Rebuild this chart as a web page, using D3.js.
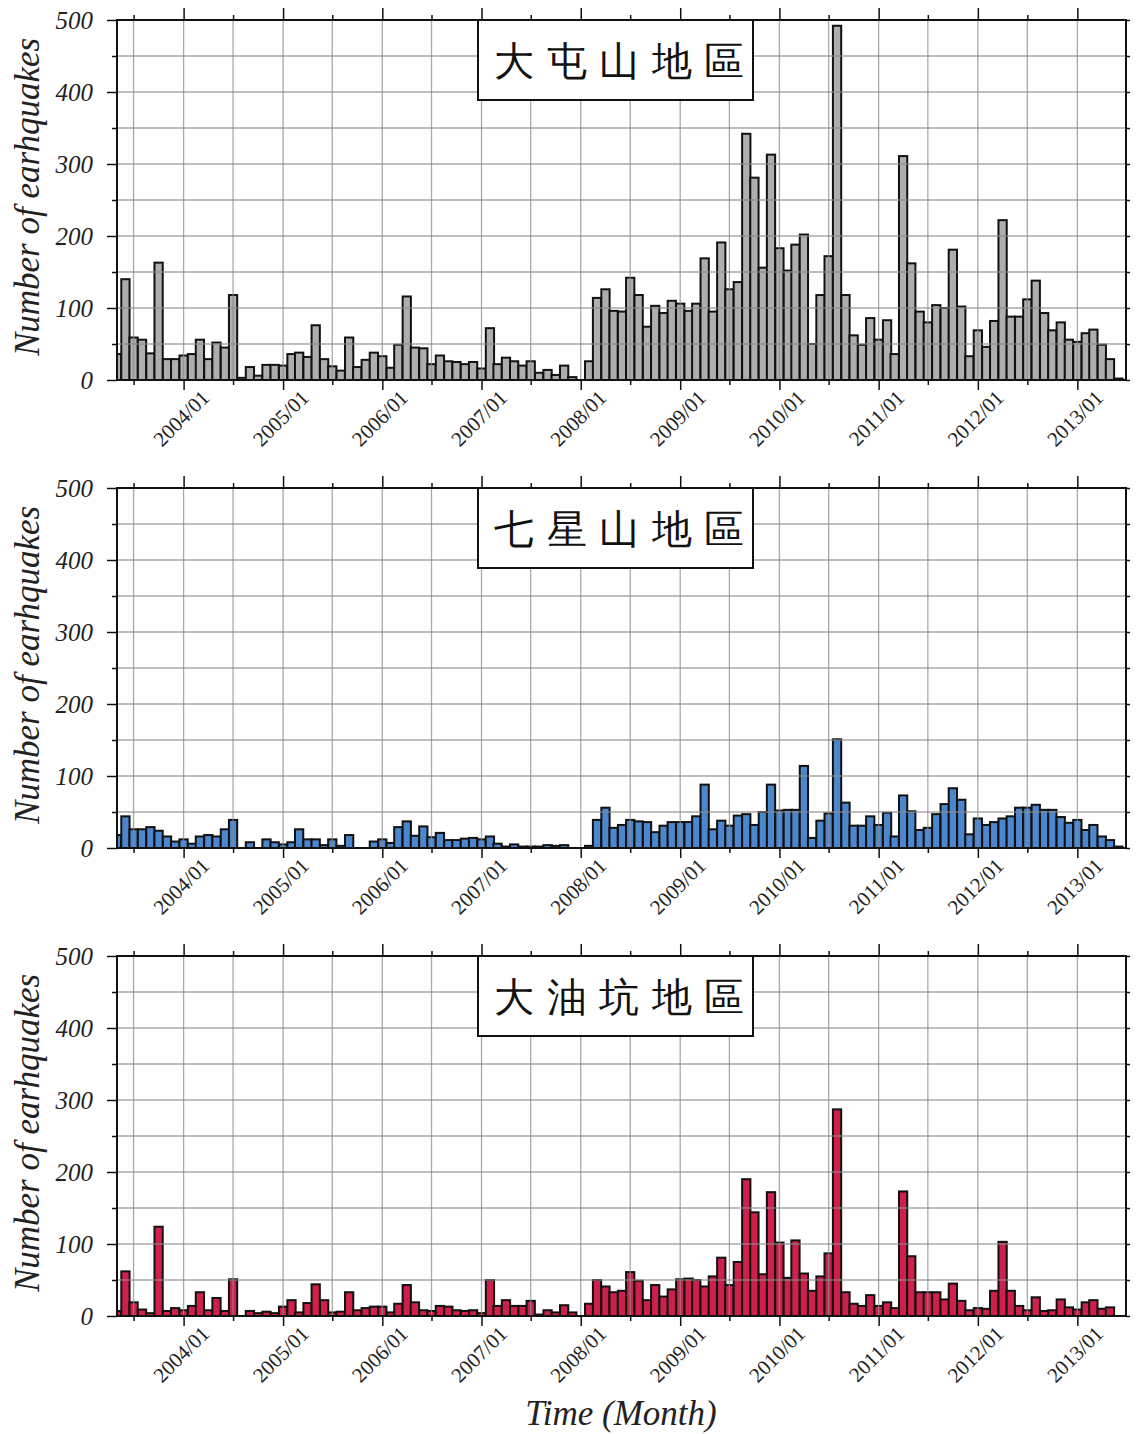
<!DOCTYPE html>
<html>
<head>
<meta charset="utf-8">
<script src="https://cdn.jsdelivr.net/npm/d3@7"></script>
<style>
  body { margin: 0; background: #fff; }
  text { font-family: "Liberation Serif", "DejaVu Serif", serif; }
</style>
</head>
<body>
<svg id="chart" width="1136" height="1434"></svg>
<script>
// monthly counts, first bar is 2003/05, last bar is 2013/06
let firstMonth = "2003/05";
let lastMonth = "2013/06";

let regions = ["大屯山地區", "七星山地區", "大油坑地區"];

let tatunValues = [
  36, 140, 59, 56, 37, 163, 29, 29, 34, 36,
  56, 29, 52, 45, 118, 3, 18, 6, 21, 21,
  20, 36, 38, 32, 76, 29, 19, 13, 59, 18,
  28, 38, 33, 17, 49, 116, 45, 44, 22, 34,
  26, 25, 22, 25, 16, 72, 22, 31, 26, 20,
  26, 10, 14, 7, 20, 4, 0, 26, 114, 126,
  96, 95, 142, 118, 74, 103, 93, 110, 106, 96,
  106, 169, 95, 191, 126, 136, 342, 281, 156, 313,
  183, 152, 188, 202, 50, 118, 172, 492, 118, 62,
  49, 86, 56, 83, 36, 311, 162, 95, 80, 104,
  100, 181, 102, 33, 69, 46, 82, 222, 88, 88,
  112, 138, 93, 69, 80, 56, 53, 65, 70, 49,
  29, 2
];

let chihsingValues = [
  18, 44, 26, 26, 29, 24, 16, 9, 12, 6,
  16, 18, 16, 26, 39, 0, 8, 0, 12, 8,
  5, 8, 26, 12, 12, 4, 12, 3, 18, 0,
  0, 9, 12, 7, 29, 37, 17, 30, 15, 21,
  11, 11, 13, 14, 12, 16, 6, 2, 5, 2,
  2, 2, 4, 3, 4, 0, 0, 3, 39, 56,
  28, 32, 39, 37, 36, 22, 31, 36, 36, 36,
  44, 88, 26, 38, 31, 45, 47, 32, 50, 88,
  52, 53, 53, 114, 14, 38, 48, 151, 63, 31,
  31, 44, 32, 49, 16, 73, 51, 25, 28, 47,
  61, 83, 67, 19, 41, 32, 36, 41, 44, 56,
  56, 60, 53, 53, 43, 35, 39, 25, 32, 16,
  11, 2
];

let tayoukengValues = [
  7, 62, 19, 9, 4, 124, 7, 11, 8, 14,
  33, 8, 25, 7, 51, 0, 7, 4, 6, 4,
  13, 22, 5, 18, 44, 22, 5, 6, 33, 8,
  11, 13, 13, 5, 17, 43, 19, 8, 7, 14,
  13, 8, 7, 8, 4, 50, 14, 22, 14, 14,
  21, 2, 8, 5, 15, 5, 0, 17, 50, 41,
  33, 35, 61, 49, 22, 43, 27, 37, 51, 52,
  50, 41, 55, 81, 43, 75, 190, 144, 58, 172,
  102, 53, 105, 59, 35, 55, 87, 287, 33, 17,
  14, 29, 14, 19, 11, 173, 83, 33, 33, 33,
  23, 45, 21, 8, 11, 10, 35, 103, 35, 14,
  8, 26, 7, 8, 23, 12, 9, 19, 22, 10,
  12, 0
];

let yearLabels = ["2004/01", "2005/01", "2006/01", "2007/01", "2008/01",
  "2009/01", "2010/01", "2011/01", "2012/01", "2013/01"];
let midLabels = ["2003/07", "2004/07", "2005/07", "2006/07", "2007/07",
  "2008/07", "2009/07", "2010/07", "2011/07", "2012/07"];
let yTickLabels = [0, 100, 200, 300, 400, 500];
let yMinor = [50, 150, 250, 350, 450];

let series = [tatunValues, chihsingValues, tayoukengValues];
let barColors = ["#aeaeae", "#4c86cc", "#cf1f4b"];

// layout
let left = 117, right = 1126;
let plotH = 360, panelStep = 468, firstTop = 20;

let svg = d3.select("#chart");
let parseMonth = d3.timeParse("%Y/%m");

let months = d3.timeMonth.range(parseMonth(firstMonth), d3.timeMonth.offset(parseMonth(lastMonth), 1));
let yearDates = yearLabels.map(parseMonth);
let midDates = midLabels.map(parseMonth);

let x = d3.scaleTime()
  .domain([parseMonth(firstMonth), new Date(2013, 5, 29)])
  .range([left, right]);

let y = d3.scaleLinear().domain([0, 500]).range([plotH, 0]);

// one month wide bars, centred on the first of the month
let bw = (x(yearDates[9]) - x(yearDates[0])) / 108;

svg.append("defs").append("clipPath").attr("id", "plotclip")
  .append("rect").attr("x", left).attr("y", 0).attr("width", right - left).attr("height", plotH);

series.forEach(function(values, i) {
  let top = firstTop + i * panelStep;
  let g = svg.append("g").attr("transform", "translate(0," + top + ")");

  // bars
  g.append("g")
    .attr("clip-path", "url(#plotclip)")
    .selectAll("rect")
    .data(values)
    .enter()
    .append("rect")
    .attr("x", function(d, k) { return x(months[k]) - bw / 2; })
    .attr("width", bw)
    .attr("y", function(d) { return y(d); })
    .attr("height", function(d) { return y(0) - y(d); })
    .attr("fill", barColors[i])
    .attr("stroke", "#111")
    .attr("stroke-width", 2)
    .attr("display", function(d) { return d > 0 ? null : "none"; });

  // grid, every 6 months and every 50
  let grid = g.append("g").attr("stroke", "#8c8c8c").attr("stroke-opacity", 0.75).attr("stroke-width", 1.3);
  grid.selectAll("line.v")
    .data(yearDates.concat(midDates))
    .enter()
    .append("line")
    .attr("x1", function(d) { return x(d); })
    .attr("x2", function(d) { return x(d); })
    .attr("y1", 0)
    .attr("y2", plotH);
  grid.selectAll("line.h")
    .data(yTickLabels.concat(yMinor).filter(function(v) { return v > 0 && v < 500; }))
    .enter()
    .append("line")
    .attr("x1", left)
    .attr("x2", right)
    .attr("y1", function(d) { return y(d); })
    .attr("y2", function(d) { return y(d); });

  // ticks on all four sides
  let tickStyle = function(sel) {
    sel.select(".domain").remove();
    sel.selectAll(".tick line").attr("stroke", "#111").attr("stroke-width", 1.5);
    sel.selectAll(".tick text").remove();
  };
  g.append("g").attr("transform", "translate(0," + plotH + ")")
    .call(d3.axisBottom(x).tickValues(yearDates).tickSize(10)).call(tickStyle);
  g.append("g").attr("transform", "translate(0," + plotH + ")")
    .call(d3.axisBottom(x).tickValues(midDates).tickSize(5)).call(tickStyle);
  g.append("g")
    .call(d3.axisTop(x).tickValues(yearDates).tickSize(12)).call(tickStyle);
  g.append("g")
    .call(d3.axisTop(x).tickValues(midDates).tickSize(5)).call(tickStyle);
  g.append("g").attr("transform", "translate(" + left + ",0)")
    .call(d3.axisLeft(y).tickValues(yTickLabels).tickSize(10)).call(tickStyle);
  g.append("g").attr("transform", "translate(" + left + ",0)")
    .call(d3.axisLeft(y).tickValues(yMinor).tickSize(5)).call(tickStyle);
  g.append("g").attr("transform", "translate(" + right + ",0)")
    .call(d3.axisRight(y).tickValues(yTickLabels.concat(yMinor)).tickSize(4)).call(tickStyle);

  // frame
  g.append("rect")
    .attr("x", left)
    .attr("y", 0)
    .attr("width", right - left)
    .attr("height", plotH)
    .attr("fill", "none")
    .attr("stroke", "#111")
    .attr("stroke-width", 2);

  // y tick labels
  g.selectAll("text.ylab")
    .data(yTickLabels)
    .enter()
    .append("text")
    .attr("x", 93)
    .attr("y", function(d) { return y(d); })
    .attr("dy", "0.35em")
    .attr("text-anchor", "end")
    .attr("font-style", "italic")
    .attr("font-size", 25)
    .attr("fill", "#222")
    .text(function(d) { return d; });

  // rotated month labels
  g.selectAll("text.xlab")
    .data(yearDates)
    .enter()
    .append("text")
    .attr("transform", function(d) { return "translate(" + (x(d) + 27) + "," + (plotH + 19) + ") rotate(-45)"; })
    .attr("text-anchor", "end")
    .attr("font-size", 21)
    .attr("fill", "#222")
    .text(function(d, k) { return yearLabels[k]; });

  // y axis title
  g.append("text")
    .attr("transform", "translate(39," + (plotH / 2 - 3) + ") rotate(-90)")
    .attr("text-anchor", "middle")
    .attr("font-style", "italic")
    .attr("font-size", 35)
    .attr("fill", "#222")
    .text("Number of earhquakes");

  // region box
  g.append("rect")
    .attr("x", 478)
    .attr("y", 0)
    .attr("width", 275)
    .attr("height", 80)
    .attr("fill", "#fff")
    .attr("stroke", "#111")
    .attr("stroke-width", 2);
  g.append("text")
    .attr("x", 494)
    .attr("y", 55)
    .attr("font-family", "'Noto Sans CJK TC', 'Noto Sans CJK SC', sans-serif")
    .attr("font-size", 40)
    .attr("letter-spacing", 12.5)
    .attr("fill", "#111")
    .text(regions[i]);
});

svg.append("text")
  .attr("x", 621)
  .attr("y", 1425)
  .attr("text-anchor", "middle")
  .attr("font-style", "italic")
  .attr("font-size", 35)
  .attr("fill", "#222")
  .text("Time (Month)");
</script>
</body>
</html>
